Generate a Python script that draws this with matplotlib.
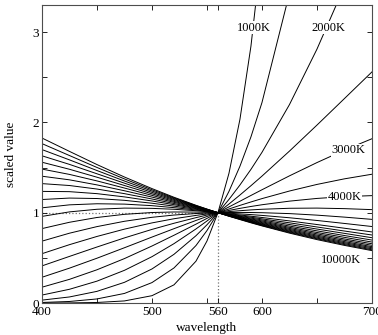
import matplotlib.pyplot as plt
from matplotlib.ticker import FixedLocator, NullFormatter

plt.rcParams['font.family'] = ['Liberation Serif', 'DejaVu Serif']

wavelength = [400, 425, 450, 475, 500, 520, 540, 550, 560, 570, 580, 590, 600, 625, 650, 675, 700]

# scaled value of each curve (1 at 560 nm), low to high colour temperature
t1000 = [0.000, 0.001, 0.006, 0.023, 0.081, 0.201, 0.463, 0.686, 1, 1.436, 2.035, 2.845, 3.927, 8.36, 16.6, 31.3, 55.8]
t1500 = [0.006, 0.017, 0.045, 0.106, 0.226, 0.388, 0.636, 0.802, 1, 1.236, 1.515, 1.840, 2.219, 3.429, 5.086, 7.274, 10.08]
t2000 = [0.032, 0.067, 0.129, 0.229, 0.377, 0.539, 0.745, 0.866, 1, 1.147, 1.307, 1.480, 1.668, 2.197, 2.811, 3.507, 4.278]
t2500 = [0.088, 0.152, 0.242, 0.362, 0.513, 0.657, 0.820, 0.908, 1, 1.096, 1.196, 1.299, 1.405, 1.682, 1.970, 2.264, 2.559]
t3000 = [0.175, 0.262, 0.368, 0.492, 0.631, 0.750, 0.873, 0.937, 1, 1.064, 1.127, 1.191, 1.254, 1.408, 1.555, 1.693, 1.819]
t3500 = [0.285, 0.386, 0.496, 0.612, 0.730, 0.823, 0.914, 0.958, 1, 1.041, 1.081, 1.119, 1.156, 1.240, 1.313, 1.375, 1.426]
t4000 = [0.411, 0.516, 0.620, 0.721, 0.815, 0.883, 0.945, 0.974, 1, 1.025, 1.048, 1.069, 1.088, 1.128, 1.158, 1.178, 1.189]
t4500 = [0.546, 0.646, 0.737, 0.818, 0.887, 0.933, 0.970, 0.986, 1, 1.012, 1.022, 1.031, 1.038, 1.049, 1.051, 1.045, 1.034]
t5000 = [0.685, 0.773, 0.846, 0.905, 0.949, 0.974, 0.991, 0.996, 1, 1.002, 1.003, 1.002, 1.000, 0.990, 0.973, 0.951, 0.926]
t5500 = [0.824, 0.894, 0.947, 0.982, 1.002, 1.008, 1.007, 1.004, 1, 0.994, 0.987, 0.979, 0.970, 0.944, 0.914, 0.881, 0.847]
t6000 = [0.959, 1.009, 1.038, 1.051, 1.048, 1.038, 1.022, 1.011, 1, 0.988, 0.975, 0.961, 0.947, 0.909, 0.869, 0.828, 0.787]
t6364 = [1.054, 1.087, 1.099, 1.095, 1.078, 1.056, 1.030, 1.015, 1, 0.984, 0.967, 0.950, 0.932, 0.888, 0.842, 0.797, 0.753]
t6727 = [1.146, 1.162, 1.157, 1.137, 1.105, 1.073, 1.038, 1.019, 1, 0.980, 0.960, 0.940, 0.920, 0.869, 0.819, 0.771, 0.723]
t7091 = [1.236, 1.233, 1.211, 1.175, 1.130, 1.089, 1.045, 1.023, 1, 0.977, 0.955, 0.931, 0.909, 0.852, 0.799, 0.747, 0.697]
t7455 = [1.322, 1.301, 1.262, 1.211, 1.152, 1.102, 1.051, 1.026, 1, 0.974, 0.949, 0.924, 0.899, 0.838, 0.781, 0.727, 0.675]
t7818 = [1.404, 1.364, 1.308, 1.243, 1.173, 1.115, 1.057, 1.029, 1, 0.972, 0.944, 0.917, 0.890, 0.826, 0.766, 0.709, 0.656]
t8182 = [1.483, 1.424, 1.352, 1.273, 1.192, 1.126, 1.063, 1.031, 1, 0.970, 0.940, 0.911, 0.882, 0.815, 0.752, 0.694, 0.639]
t8545 = [1.559, 1.481, 1.393, 1.301, 1.209, 1.137, 1.067, 1.033, 1, 0.968, 0.936, 0.905, 0.875, 0.805, 0.740, 0.680, 0.624]
t8909 = [1.630, 1.535, 1.431, 1.327, 1.225, 1.147, 1.071, 1.035, 1, 0.966, 0.933, 0.900, 0.869, 0.796, 0.729, 0.668, 0.612]
t9273 = [1.699, 1.585, 1.467, 1.351, 1.240, 1.156, 1.075, 1.037, 1, 0.964, 0.930, 0.896, 0.864, 0.788, 0.719, 0.657, 0.600]
t9636 = [1.765, 1.633, 1.501, 1.374, 1.254, 1.164, 1.079, 1.039, 1, 0.962, 0.927, 0.892, 0.858, 0.781, 0.711, 0.647, 0.589]
t10000 = [1.827, 1.679, 1.533, 1.395, 1.267, 1.171, 1.082, 1.040, 1, 0.961, 0.924, 0.888, 0.854, 0.774, 0.702, 0.638, 0.580]

curves = [t1000, t1500, t2000, t2500, t3000, t3500, t4000, t4500, t5000, t5500, t6000,
          t6364, t6727, t7091, t7455, t7818, t8182, t8545, t8909, t9273, t9636, t10000]

# normalisation point
ref_wl = 560
ref_val = 1.0

# temperature labels
temp_labels = ['1000K', '2000K', '3000K', '4000K', '10000K']
label_x = [593, 660, 679, 675, 672]
label_y = [3.05, 3.05, 1.69, 1.17, 0.48]

fig = plt.figure(figsize=(3.78, 3.35), dpi=100)
ax = fig.add_axes([0.111, 0.0955, 0.873, 0.8896])

ax.vlines(ref_wl, 0, ref_val, colors='0.45', linestyles=':', lw=0.9, zorder=1)
ax.hlines(ref_val, wavelength[0], ref_wl, colors='0.45', linestyles=':', lw=0.9, zorder=1)

for c in curves:
    ax.plot(wavelength, c, color='k', lw=0.7, zorder=2)

for s, x, y in zip(temp_labels, label_x, label_y):
    ax.text(x, y, s, ha='center', va='center', fontsize=9, zorder=3,
            bbox=dict(facecolor='white', edgecolor='none', pad=0.6))

ax.set_xlim(400, 700)
ax.set_ylim(0, 3.3)

ax.xaxis.set_major_locator(FixedLocator([400, 500, 560, 600, 700]))
ax.xaxis.set_minor_locator(FixedLocator([450, 550, 650]))
ax.yaxis.set_major_locator(FixedLocator([0, 1, 2, 3]))
ax.yaxis.set_minor_locator(FixedLocator([0.5, 1.5, 2.5]))
ax.xaxis.set_minor_formatter(NullFormatter())
ax.yaxis.set_minor_formatter(NullFormatter())

ax.tick_params(which='both', direction='in', top=True, right=True, length=3.5, width=0.6,
               labelsize=9.5, pad=2)
for sp in ax.spines.values():
    sp.set_linewidth(0.8)
    sp.set_color('0.3')

ax.set_xlabel('wavelength', fontsize=9.5, labelpad=3)
ax.set_ylabel('scaled value', fontsize=9.5, labelpad=11)

fig.savefig('out.png', dpi=100)
